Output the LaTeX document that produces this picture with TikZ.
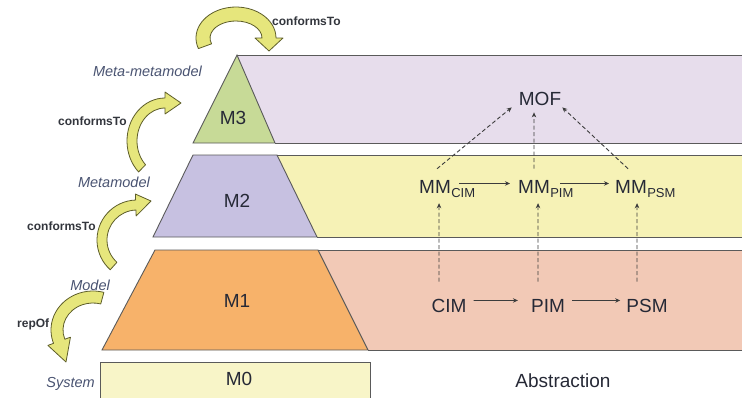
\documentclass[tikz,border=0pt]{standalone}
\usepackage{fontspec}
\setmainfont{Liberation Sans}
\usetikzlibrary{calc,arrows.meta}

\definecolor{bandpurple}{HTML}{E7DDEC}
\definecolor{mthreegreen}{HTML}{C7DA97}
\definecolor{bandyellow}{HTML}{F6F2B6}
\definecolor{mtwoblue}{HTML}{C7C1E1}
\definecolor{bandpink}{HTML}{F2C9B6}
\definecolor{moneorange}{HTML}{F7B26A}
\definecolor{mzeroyellow}{HTML}{F8F5C8}
\definecolor{edgegray}{HTML}{5A5A5A}
\definecolor{txtdark}{HTML}{262936}
\definecolor{labelblue}{HTML}{4A5472}
\definecolor{reltext}{HTML}{33363D}
\definecolor{linegray}{HTML}{3C3C3C}
\definecolor{bentfill}{HTML}{E6E67C}
\definecolor{bentedge}{HTML}{5E5E2A}

% curved block arrow along an elliptic arc:
% #1 centre, #2 x radius, #3 y radius, #4 start angle, #5 end angle,
% #6 half shaft width, #7 head overhang, #8 tip point
\newcommand\bentarrow[8]{%
  \pgfmathsetmacro\bArXo{#2+#6}\pgfmathsetmacro\bArYo{#3+#6}%
  \pgfmathsetmacro\bArXi{#2-#6}\pgfmathsetmacro\bArYi{#3-#6}%
  \pgfmathsetmacro\bArXho{#2+#6+#7}\pgfmathsetmacro\bArYho{#3+#6+#7}%
  \pgfmathsetmacro\bArXhi{#2-#6-#7}\pgfmathsetmacro\bArYhi{#3-#6-#7}%
  \filldraw[bent] ($#1+({#4}:{\bArXo} and {\bArYo})$)
    arc[start angle=#4, end angle=#5, x radius=\bArXo, y radius=\bArYo]
    -- ($#1+({#5}:{\bArXho} and {\bArYho})$) -- #8
    -- ($#1+({#5}:{\bArXhi} and {\bArYhi})$)
    -- ($#1+({#5}:{\bArXi} and {\bArYi})$)
    arc[start angle=#5, end angle=#4, x radius=\bArXi, y radius=\bArYi]
    -- cycle;}

\tikzset{
  layer/.style={draw=edgegray, line width=0.9pt, line join=miter},
  bent/.style={fill=bentfill, draw=bentedge, line width=0.8pt, line join=round},
  maintext/.style={font=\fontsize{19}{19}\selectfont, text=txtdark, inner sep=0pt, anchor=base},
  subtext/.style={font=\fontsize{13}{13}\selectfont, text=txtdark, inner sep=0pt, anchor=base west},
  levellabel/.style={font=\fontsize{14.5}{14.5}\selectfont\itshape, text=labelblue, inner sep=0pt, anchor=base east},
  relation/.style={font=\fontsize{12}{12}\selectfont\bfseries, text=reltext, inner sep=0pt, anchor=base west},
  flow/.style={draw=linegray, line width=0.9pt, -{Stealth[length=5pt,width=4.5pt]}},
  dashflow/.style={flow, dash pattern=on 4pt off 2.5pt}
}

\begin{document}
\begin{tikzpicture}[x=1pt, y=-1pt]
\useasboundingbox (0,0) rectangle (742,397);
\fill[white] (0,0) rectangle (742,397);

% ---- M3 layer
\fill[bandpurple] (237,55) rectangle (745,143);
\filldraw[layer, fill=mthreegreen] (237,55) -- (275,143) -- (193,143) -- cycle;
\draw[layer] (237,55) -- (745,55) (275,143) -- (745,143);

% ---- M2 layer
\fill[bandyellow] (277,155) -- (745,155) -- (745,237) -- (317,237) -- cycle;
\filldraw[layer, fill=mtwoblue] (193,155) -- (277,155) -- (317,237) -- (153,237) -- cycle;
\draw[layer] (277,155) -- (745,155) (317,237) -- (745,237);

% ---- M1 layer
\fill[bandpink] (318,250) -- (745,250) -- (745,350) -- (368,350) -- cycle;
\filldraw[layer, fill=moneorange] (155,250) -- (318,250) -- (368,350) -- (102,350) -- cycle;
\draw[layer] (318,250) -- (745,250) (368,350) -- (745,350);

% ---- M0 layer
\filldraw[layer, fill=mzeroyellow] (100,402) -- (100,362) -- (370,362) -- (370,402);

% ---- level names
\node[maintext] (m3) at (233,124) {M3};
\node[maintext] (m2) at (237,207) {M2};
\node[maintext] (m1) at (237,307) {M1};
\node[maintext] (m0) at (239,385) {M0};
\node[maintext] (abs) at (563,387) {Abstraction};

\node[levellabel] (lmm) at (202,76) {Meta-metamodel};
\node[levellabel] (lmeta) at (150,187) {Metamodel};
\node[levellabel] (lmodel) at (110,290) {Model};
\node[levellabel] (lsys) at (95,387) {System};

\node[relation] (r3) at (272,25) {conformsTo};
\node[relation] (r2) at (58,125) {conformsTo};
\node[relation] (r1) at (27,230) {conformsTo};
\node[relation] (r0) at (17,327) {repOf};

% ---- curved relation arrows
\bentarrow{(236,38)}{33}{24}{160}{360}{7}{7}{(269,51)}
\bentarrow{(165,141)}{33}{38}{134}{270}{5}{6}{(181,103)}
\bentarrow{(137,240)}{35}{35}{132}{268}{5}{6}{(151,201)}
\bentarrow{(93,330)}{36}{33}{285}{160}{6}{6}{(66,362)}

% ---- model contents
\node[maintext] (mof) at (540,105) {MOF};

\node[maintext, anchor=base west] (mmcim) at (419,193) {MM};
\node[subtext, yshift=-4pt] (mmcimsub) at (mmcim.base east) {CIM};
\node[maintext, anchor=base west] (mmpim) at (518,193) {MM};
\node[subtext, yshift=-4pt] (mmpimsub) at (mmpim.base east) {PIM};
\node[maintext, anchor=base west] (mmpsm) at (615,193) {MM};
\node[subtext, yshift=-4pt] (mmpsmsub) at (mmpsm.base east) {PSM};

\node[maintext] (cim) at (449,312) {CIM};
\node[maintext] (pim) at (548,312) {PIM};
\node[maintext] (psm) at (647,312) {PSM};

% transformations
\draw[flow] ([shift={(8pt,3pt)}]mmcim.east) -- ([shift={(-8pt,3pt)}]mmpim.west);
\draw[flow] ([shift={(10pt,3pt)}]mmpim.east) -- ([shift={(-6pt,3pt)}]mmpsm.west);
\draw[flow] ([shift={(7pt,5pt)}]cim.east) -- ([shift={(-13pt,5pt)}]pim.west);
\draw[flow] ([shift={(7pt,5pt)}]pim.east) -- ([shift={(-6pt,5pt)}]psm.west);

% conformance
\draw[dashflow] ([shift={(-10pt,17pt)}]cim.north) -- ([shift={(4pt,-10pt)}]mmcim.south);
\draw[dashflow] ([shift={(-10pt,17pt)}]pim.north) -- ([shift={(4pt,-10pt)}]mmpim.south);
\draw[dashflow] ([shift={(-10pt,17pt)}]psm.north) -- ([shift={(6pt,-10pt)}]mmpsm.south);
\draw[dashflow] ([shift={(2pt,11pt)}]mmcim.north) -- ([shift={(-7pt,-2pt)}]mof.south west);
\draw[dashflow] ([shift={(0pt,11pt)}]mmpim.north) -- ([shift={(-6pt,-7pt)}]mof.south);
\draw[dashflow] ([shift={(-3pt,11pt)}]mmpsm.north) -- ([shift={(1pt,-2pt)}]mof.south east);
\end{tikzpicture}
\end{document}
